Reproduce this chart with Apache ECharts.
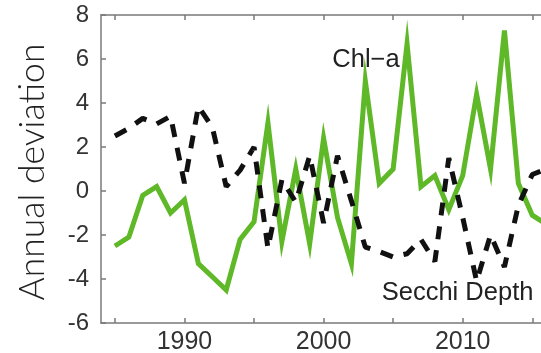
<!DOCTYPE html>
<html>
<head>
<meta charset="utf-8">
<script src="https://cdn.jsdelivr.net/npm/echarts@6/dist/echarts.min.js"></script>
<style>
  html, body { margin: 0; padding: 0; background: #fff; }
  #chart { width: 541px; height: 353px; }
</style>
</head>
<body>
<div id="chart"></div>
<script>
// Annual deviation of chlorophyll-a and Secchi depth, 1985-2016
const years = [1985, 1986, 1987, 1988, 1989, 1990, 1991, 1992, 1993, 1994,
               1995, 1996, 1997, 1998, 1999, 2000, 2001, 2002, 2003, 2004,
               2005, 2006, 2007, 2008, 2009, 2010, 2011, 2012, 2013, 2014,
               2015, 2016];
const chlA = [-2.5, -2.1, -0.2, 0.2, -1.0, -0.4, -3.3, -3.9, -4.5, -2.2,
              -1.4, 3.1, -2.3, 1.0, -2.4, 2.4, -1.2, -3.3, 5.0, 0.35,
              1.0, 6.7, 0.2, 0.7, -0.85, 0.7, 4.4, 1.0, 7.3, 0.35,
              -1.1, -1.5];
const secchi = [2.5, 2.85, 3.3, 3.05, 3.4, 0.35, 3.85, 2.9, 0.2, 0.95,
                2.0, -2.6, 0.5, -0.5, 1.6, -1.45, 1.6, -0.45, -2.55, -2.75,
                -3.0, -2.85, -2.2, -3.2, 1.5, -1.2, -4.1, -2.0, -3.45, -0.65,
                0.75, 1.0];
const xTicks = [1985, 1990, 1995, 2000, 2005, 2010, 2015];
const xLabels = [1990, 2000, 2010];
const yLabelName = 'Annual deviation';
const chlName = 'Chl\u2212a';
const secchiName = 'Secchi Depth';

const axisGray = '#7a7a7a';
const textGray = '#333';
const green = '#5eb828';

const chart = echarts.init(document.getElementById('chart'), null, { renderer: 'canvas' });

const pairs = (vals) => years.map((y, i) => [y, vals[i]]);

const xCommon = {
  type: 'value',
  min: 1984,
  max: 2018,
  splitLine: { show: false },
  axisLine: { show: true, onZero: false, lineStyle: { color: axisGray, width: 1.5 } },
  axisTick: { show: true, inside: true, length: 5, customValues: xTicks,
              lineStyle: { color: axisGray, width: 1.5 } }
};

chart.setOption({
  animation: false,
  grid: { left: 101, top: 15, width: 473, height: 308,
          containLabel: false, outerBoundsMode: 'none' },
  xAxis: [
    Object.assign({}, xCommon, {
      position: 'bottom',
      axisLabel: { show: true, customValues: xLabels, margin: 7,
                   formatter: (v) => String(v),
                   color: textGray, fontSize: 25, fontFamily: 'Liberation Sans' }
    }),
    Object.assign({}, xCommon, {
      position: 'top',
      axisLabel: { show: false }
    })
  ],
  yAxis: {
    type: 'value',
    min: -6,
    max: 8,
    interval: 2,
    splitLine: { show: false },
    axisLine: { show: true, lineStyle: { color: axisGray, width: 1.5 } },
    axisTick: { show: true, inside: true, length: 5, lineStyle: { color: axisGray, width: 1.5 } },
    axisLabel: { margin: 12, color: textGray, fontSize: 24, fontFamily: 'Liberation Sans' }
  },
  series: [
    {
      name: chlName,
      type: 'line',
      data: pairs(chlA),
      showSymbol: false,
      lineStyle: { color: green, width: 5, join: 'miter' },
      z: 2
    },
    {
      name: secchiName,
      type: 'line',
      data: pairs(secchi),
      showSymbol: false,
      lineStyle: { color: '#111', width: 5, type: [13, 11], cap: 'butt' },
      z: 3
    }
  ]
});

// Series names and axis title placed in data space
const chlPos = chart.convertToPixel({ gridIndex: 0 }, [2003.05, 5.95]);
const secPos = chart.convertToPixel({ gridIndex: 0 }, [2009.63, -4.64]);
chart.setOption({
  graphic: [
    {
      type: 'text',
      x: chlPos[0], y: chlPos[1],
      style: { text: chlName, fill: '#222', font: '25.5px "Liberation Sans"',
               align: 'center', verticalAlign: 'middle' }
    },
    {
      type: 'text',
      x: secPos[0], y: secPos[1],
      style: { text: secchiName, fill: '#222', font: '25.5px "Liberation Sans"',
               align: 'center', verticalAlign: 'middle' }
    },
    {
      type: 'text',
      x: 33, y: 172,
      rotation: Math.PI / 2,
      style: { text: yLabelName, fill: '#222', font: '300 35.5px Lato',
               align: 'center', verticalAlign: 'middle' }
    }
  ]
});
</script>
</body>
</html>
